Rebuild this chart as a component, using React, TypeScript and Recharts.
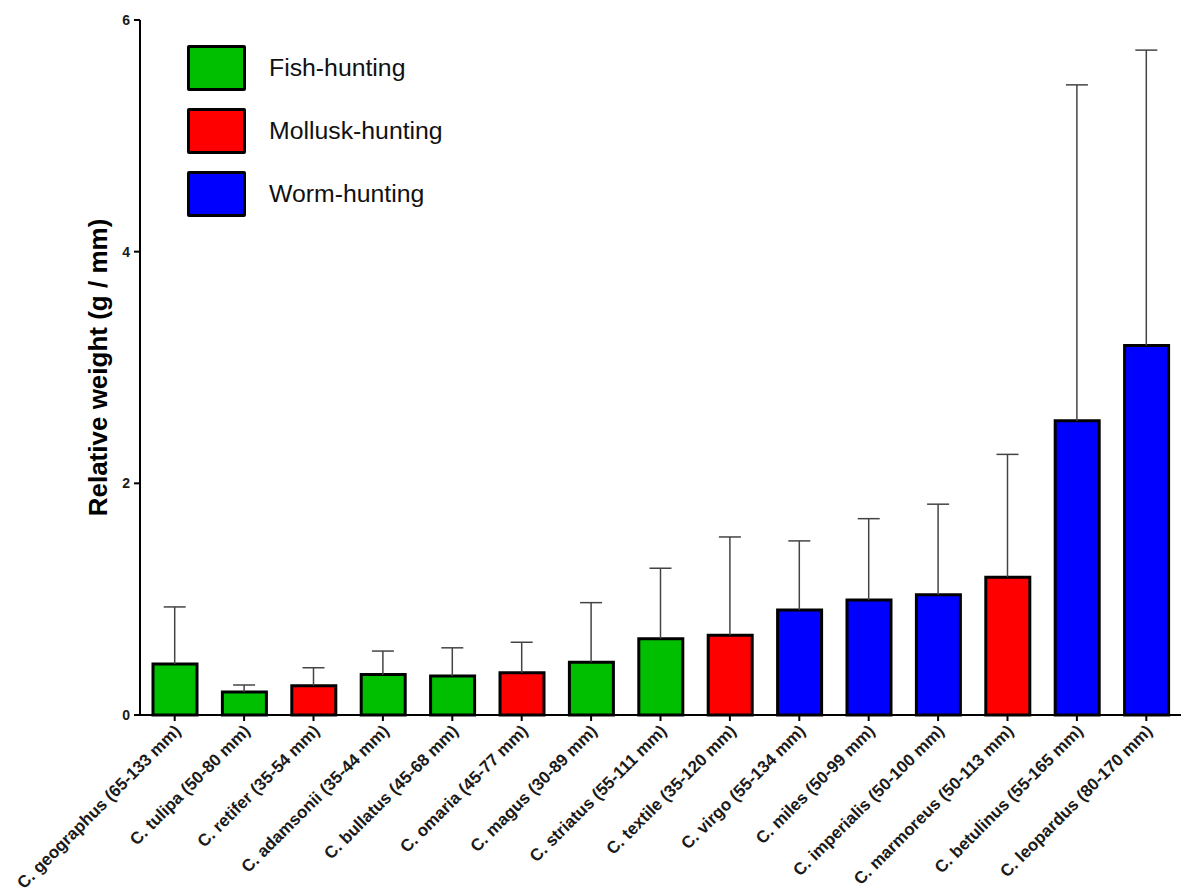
import React from 'react';
import { ComposedChart, Bar, Line, ErrorBar, XAxis, YAxis, Cell } from 'recharts';

const species = [
  'C. geographus (65-133 mm)',
  'C. tulipa (50-80 mm)',
  'C. retifer (35-54 mm)',
  'C. adamsonii (35-44 mm)',
  'C. bullatus (45-68 mm)',
  'C. omaria (45-77 mm)',
  'C. magus (30-89 mm)',
  'C. striatus (55-111 mm)',
  'C. textile (35-120 mm)',
  'C. virgo (55-134 mm)',
  'C. miles (50-99 mm)',
  'C. imperialis (50-100 mm)',
  'C. marmoreus (50-113 mm)',
  'C. betulinus (55-165 mm)',
  'C. leopardus (80-170 mm)',
];
const groups = ['Fish', 'Fish', 'Mollusk', 'Fish', 'Fish', 'Mollusk', 'Fish', 'Fish', 'Mollusk', 'Worm', 'Worm', 'Worm', 'Mollusk', 'Worm', 'Worm'];
const means = [0.44, 0.198, 0.253, 0.35, 0.336, 0.364, 0.455, 0.659, 0.688, 0.907, 0.993, 1.039, 1.19, 2.54, 3.19];
const sds = [0.493, 0.061, 0.155, 0.202, 0.244, 0.264, 0.515, 0.608, 0.849, 0.596, 0.702, 0.781, 1.06, 2.9, 2.55];
const yTicks = [0, 2, 4, 6];
const legendGroups = ['Fish', 'Mollusk', 'Worm'];
const legendLabels = ['Fish-hunting', 'Mollusk-hunting', 'Worm-hunting'];
const groupColors: Record<string, string> = { Fish: '#00BF00', Mollusk: '#FF0000', Worm: '#0000FF' };

const data = species.map((name, i) => ({
  name,
  group: groups[i],
  mean: means[i],
  err: [0, sds[i]],
}));

const FONT = '"Liberation Sans", Arial, Helvetica, sans-serif';

const XTick = (props: any) => {
  const { x, y, payload } = props;
  return (
    <g transform={`translate(${x + 7},${y + 9})`}>
      <text x={0} y={0} transform="rotate(-45)" textAnchor="end" fontFamily={FONT} fontWeight="bold" fontSize={17} fill="#1a1a1a">
        {payload.value}
      </text>
    </g>
  );
};

const YTick = (props: any) => {
  const { x, y, payload } = props;
  return (
    <text x={x - 2} y={y} textAnchor="end" dominantBaseline="central" fontFamily={FONT} fontWeight="bold" fontSize={14} fill="#1a1a1a">
      {payload.value}
    </text>
  );
};

const YTitle = (props: any) => {
  const { viewBox } = props;
  const cx = viewBox.x + 98;
  const cy = viewBox.y + viewBox.height / 2;
  return (
    <text x={cx} y={cy} transform={`rotate(-90, ${cx}, ${cy})`} textAnchor="middle" dominantBaseline="central" fontFamily={FONT} fontWeight="bold" fontSize={26} fill="#000">
      Relative weight (g / mm)
    </text>
  );
};

const LegendBox = () => (
  <div style={{ position: 'absolute', left: 187, top: 45, fontFamily: FONT }}>
    {legendGroups.map((g, i) => (
      <div key={g} style={{ display: 'flex', alignItems: 'center', height: 46, marginBottom: 17 }}>
        <div style={{ width: 53, height: 40, border: '3px solid #000', borderRadius: 2, background: groupColors[g] }} />
        <span style={{ marginLeft: 23, fontSize: 24.8, color: '#111' }}>{legendLabels[i]}</span>
      </div>
    ))}
  </div>
);

export default function App() {
  return (
    <div style={{ position: 'absolute', left: 0, top: 0, width: 1181, height: 895, background: '#fff' }}>
      <style>{`.recharts-errorBar line:nth-of-type(3) { display: none; }`}</style>
      <ComposedChart width={1181} height={895} data={data} margin={{ top: 20, right: 0, left: 0, bottom: 0 }}>
        <XAxis
          dataKey="name"
          interval={0}
          height={180}
          tick={<XTick />}
          tickSize={6}
          axisLine={{ stroke: '#000', strokeWidth: 2 }}
          tickLine={{ stroke: '#000', strokeWidth: 2 }}
        />
        <YAxis
          width={140}
          domain={[0, 6]}
          ticks={yTicks}
          tickSize={6}
          axisLine={{ stroke: '#000', strokeWidth: 2 }}
          tickLine={{ stroke: '#000', strokeWidth: 2 }}
          tick={<YTick />}
          label={<YTitle />}
        />
        <Line dataKey="mean" stroke="none" dot={false} activeDot={false} isAnimationActive={false} legendType="none">
          <ErrorBar dataKey="err" width={11} stroke="#444" strokeWidth={1.5} direction="y" />
        </Line>
        <Bar dataKey="mean" barSize={44} stroke="#000" strokeWidth={3} isAnimationActive={false}>
          {data.map((d, i) => (
            <Cell key={i} fill={groupColors[d.group]} />
          ))}
        </Bar>
      </ComposedChart>
      <LegendBox />
    </div>
  );
}
